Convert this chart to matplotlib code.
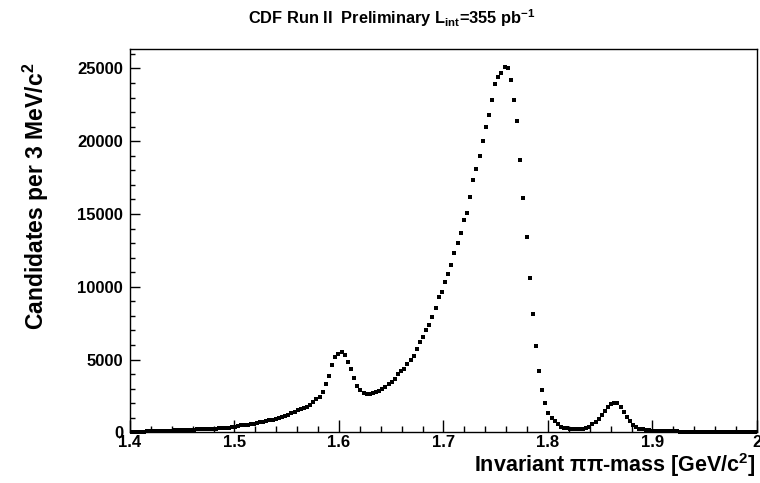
import numpy as np
import matplotlib
matplotlib.use("Agg")
import matplotlib.pyplot as plt
from matplotlib.ticker import MultipleLocator

# histogram: 200 bins of 3 MeV between 1.4 and 2.0 GeV
mass_min = 1.4
mass_max = 2.0
bin_width = 0.003

candidates = [
    20, 30, 40, 50, 50, 60, 70, 80, 80, 90,
    100, 110, 120, 120, 130, 140, 150, 160, 170, 180,
    190, 200, 210, 220, 230, 240, 250, 260, 270, 280,
    290, 310, 340, 380, 430, 470, 500, 530, 560, 600,
    660, 680, 730, 770, 820, 870, 940, 1000, 1070, 1140,
    1200, 1300, 1420, 1530, 1600, 1690, 1760, 1900, 2080, 2260,
    2450, 2800, 3300, 3840, 4600, 5200, 5400, 5500, 5340, 4850,
    4360, 3700, 3200, 2900, 2720, 2650, 2650, 2720, 2800, 2850,
    3000, 3130, 3300, 3470, 3630, 4000, 4180, 4360, 4660, 4980,
    5230, 5730, 6200, 6530, 7050, 7400, 7920, 8540, 9290, 9640,
    10300, 10900, 11500, 12350, 13000, 13700, 14600, 15100, 16200, 17300,
    18100, 19000, 20000, 21000, 21800, 22800, 23900, 24400, 24700, 25100,
    25000, 24200, 22800, 21400, 18700, 16100, 13400, 10600, 8100, 5900,
    4200, 2900, 2000, 1350, 1000, 770, 550, 390, 320, 270,
    250, 240, 230, 230, 250, 300, 390, 550, 700, 900,
    1180, 1460, 1730, 1950, 2030, 1990, 1750, 1420, 1080, 750,
    500, 340, 250, 200, 160, 140, 120, 110, 100, 90,
    80, 70, 65, 60, 55, 50, 45, 40, 38, 35,
    32, 30, 28, 26, 24, 22, 20, 19, 18, 17,
    16, 15, 14, 13, 12, 11, 10, 9, 8, 8,
]

title = r"CDF Run II  Preliminary L$_{\mathbf{int}}$=355 pb$^{\mathbf{-1}}$"
xlabel = r"Invariant ππ-mass [GeV/c$^{\mathbf{2}}$]"
ylabel = r"Candidates per 3 MeV/c$^{\mathbf{2}}$"

plt.rcParams["font.family"] = ["Liberation Sans", "DejaVu Sans"]
plt.rcParams["font.weight"] = "bold"
plt.rcParams["mathtext.fontset"] = "custom"
plt.rcParams["mathtext.bf"] = "Liberation Sans:bold"
plt.rcParams["mathtext.rm"] = "Liberation Sans:bold"
plt.rcParams["mathtext.default"] = "bf"

counts = np.array(candidates)
centers = mass_min + bin_width * (np.arange(len(counts)) + 0.5)

fig = plt.figure(figsize=(7.6, 4.83), dpi=100)
ax = fig.add_axes([0.171, 0.105, 0.825, 0.794])

ax.plot(centers, counts, linestyle="none", marker="s", markersize=2.4,
        markeredgewidth=0, color="black", clip_on=False)

ax.set_xlim(mass_min, mass_max)
ax.set_ylim(0, 26350)

ax.xaxis.set_major_locator(MultipleLocator(0.1))
ax.xaxis.set_minor_locator(MultipleLocator(0.02))
ax.yaxis.set_major_locator(MultipleLocator(5000))
ax.yaxis.set_minor_locator(MultipleLocator(1000))
ax.xaxis.set_major_formatter(matplotlib.ticker.FuncFormatter(lambda v, p: f"{v:g}"))

ax.tick_params(axis="x", which="major", direction="in", length=8.5, width=1,
               labelsize=12, pad=2)
ax.tick_params(axis="x", which="minor", direction="in", length=4.3, width=1)
ax.tick_params(axis="y", which="major", direction="in", length=7.5, width=1,
               labelsize=12, pad=5)
ax.tick_params(axis="y", which="minor", direction="in", length=3.7, width=1)
for s in ax.spines.values():
    s.set_linewidth(1.0)

fig.text(0.516, 0.962, title, ha="center", va="center", fontsize=11.8,
         fontweight="bold")
fig.text(0.994, 0.037, xlabel, ha="right", va="center", fontsize=15.5,
         fontweight="bold")
fig.text(0.047, 0.594, ylabel, ha="center", va="center", rotation=90,
         fontsize=16.5, fontweight="bold")

fig.savefig("out.png", dpi=100)
